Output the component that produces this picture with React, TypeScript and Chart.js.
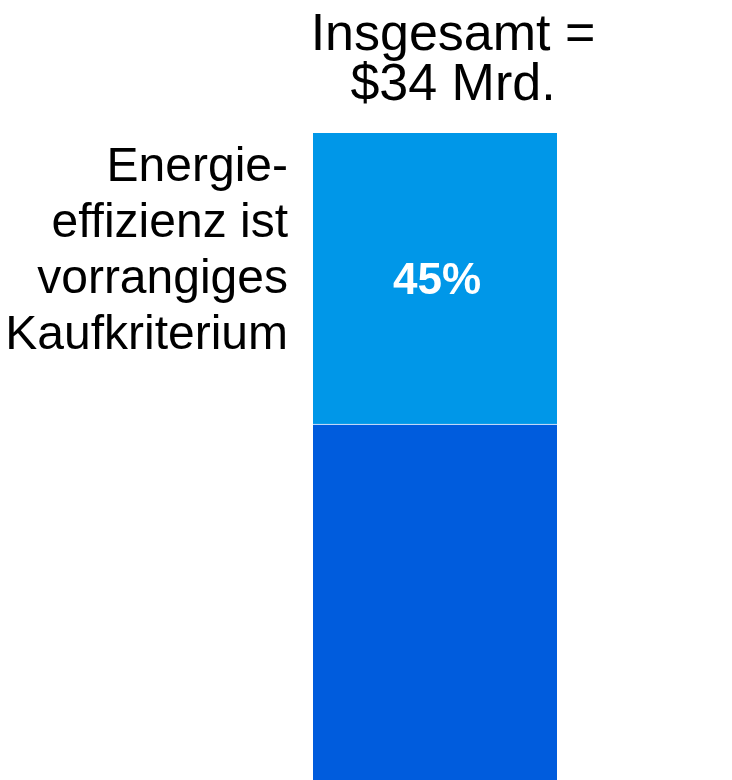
import React, { useEffect, useRef } from "react";
import { Chart, registerables } from "chart.js";

Chart.register(...registerables);

const categories = ["Insgesamt"];
const shareOther = [55];
const shareEfficiency = [45];
const titleLines = ["Insgesamt =", "$34 Mrd."];
const labelLines = ["Energie-", "effizienz ist", "vorrangiges", "Kaufkriterium"];
const valueLabels = ["45%"];

const FONT = "'Liberation Sans', Arial, Helvetica, sans-serif";

const textPlugin = {
  id: "textPlugin",
  afterDatasetsDraw(chart: any) {
    const { ctx, chartArea } = chart;
    const meta = chart.getDatasetMeta(1);
    const bar = meta.data[0];
    if (!bar) return;
    const props = bar.getProps(["x", "y", "base", "width"], true);
    const left = props.x - props.width / 2;
    ctx.save();
    // title
    ctx.fillStyle = "#000000";
    ctx.font = `52px ${FONT}`;
    ctx.textAlign = "center";
    ctx.textBaseline = "alphabetic";
    titleLines.forEach((t, i) => {
      ctx.fillText(t, props.x + 18, chartArea.top - 83 + i * 50);
    });
    // left label
    ctx.font = `48px ${FONT}`;
    ctx.textAlign = "right";
    labelLines.forEach((t, i) => {
      ctx.fillText(t, left - 25, chartArea.top + 48 + i * 56);
    });
    // value label
    ctx.fillStyle = "#ffffff";
    ctx.font = `bold 44px ${FONT}`;
    ctx.textAlign = "center";
    const midY = (props.y + props.base) / 2;
    ctx.fillText(valueLabels[0], props.x + 2, midY + 15);
    ctx.restore();
  },
};

export default function App() {
  const ref = useRef<HTMLCanvasElement | null>(null);
  useEffect(() => {
    if (!ref.current) return;
    const chart = new Chart(ref.current, {
      type: "bar",
      data: {
        labels: categories,
        datasets: [
          {
            label: "Andere",
            data: shareOther,
            backgroundColor: "#005CDD",
            borderColor: "#ffffff",
            borderWidth: { top: 1, left: 0, right: 0, bottom: 0 },
            borderSkipped: false,
            barPercentage: 1,
            categoryPercentage: 1,
          },
          {
            label: "Energieeffizienz",
            data: shareEfficiency,
            backgroundColor: "#0097E8",
            borderWidth: 0,
            barPercentage: 1,
            categoryPercentage: 1,
          },
        ],
      },
      options: {
        responsive: false,
        animation: false,
        layout: { padding: { left: 313, right: 175, top: 133, bottom: 0 } },
        plugins: {
          legend: { display: false },
          tooltip: { enabled: false },
          title: { display: false },
        },
        scales: {
          x: { stacked: true, display: false },
          y: { stacked: true, display: false, min: 0, max: 100 },
        },
      },
      plugins: [textPlugin],
    });
    return () => chart.destroy();
  }, []);
  return (
    <div style={{ position: "fixed", top: 0, left: 0, width: 732, height: 780, background: "#ffffff" }}>
      <canvas ref={ref} width={732} height={780} style={{ display: "block" }} />
    </div>
  );
}
